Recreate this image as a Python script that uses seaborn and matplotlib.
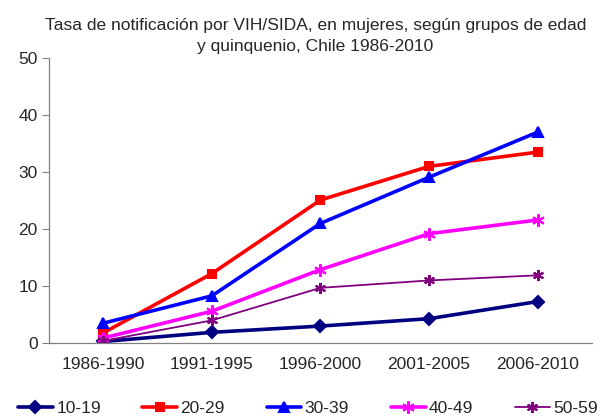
import seaborn as sns
import matplotlib.pyplot as plt
import pandas as pd
from matplotlib.ticker import FixedLocator

periodos = ['1986-1990', '1991-1995', '1996-2000', '2001-2005', '2006-2010']
grupos = ['10-19', '20-29', '30-39', '40-49', '50-59']
tasa_10_19 = [0.3, 1.9, 3.0, 4.3, 7.3]
tasa_20_29 = [1.8, 12.2, 25.1, 31.0, 33.5]
tasa_30_39 = [3.5, 8.3, 21.0, 29.1, 37.0]
tasa_40_49 = [0.9, 5.6, 12.9, 19.2, 21.6]
tasa_50_59 = [0.4, 4.0, 9.7, 11.0, 11.9]

series = [tasa_10_19, tasa_20_29, tasa_30_39, tasa_40_49, tasa_50_59]
colores = ['#000080', '#FF0000', '#0000FF', '#FF00FF', '#800080']
marcas = ['D', 's', '^', (6, 2, 0), (6, 2, 0)]
grosor = [2.6, 2.6, 2.6, 2.6, 1.3]
tam_marca = [6, 6, 7, 9, 8]

sns.set_style('white')
plt.rcParams['font.family'] = ['Liberation Sans', 'DejaVu Sans']
FS = 12.5

fig, ax = plt.subplots(figsize=(6.11, 4.17), dpi=100)
fig.subplots_adjust(left=0.080, right=0.969, top=0.861, bottom=0.177)

for g, vals, c, m, lw, ms in zip(grupos, series, colores, marcas, grosor, tam_marca):
    df = pd.DataFrame({'periodo': periodos, 'tasa': vals})
    sns.lineplot(data=df, x='periodo', y='tasa', ax=ax, color=c, marker=m,
                 linewidth=lw, markersize=ms, markeredgecolor=c,
                 markeredgewidth=1.5, label=g)

ax.set_xlim(-0.5, 4.5)
ax.set_ylim(0, 50)
ax.set_yticks(range(0, 51, 10))
ax.set_xlabel('')
ax.set_ylabel('')
ax.xaxis.set_minor_locator(FixedLocator([-0.5, 0.5, 1.5, 2.5, 3.5, 4.5]))
ax.tick_params(axis='x', which='major', length=0, labelsize=FS, pad=10)
ax.tick_params(axis='x', which='minor', length=5, width=0.8, color='#808080', direction='out')
ax.tick_params(axis='y', length=5, width=0.8, color='#808080', direction='out', labelsize=FS, left=True, pad=3)
for s in ['top', 'right']:
    ax.spines[s].set_visible(False)
for s in ['left', 'bottom']:
    ax.spines[s].set_color('#808080')
    ax.spines[s].set_linewidth(0.9)

fig.text(0.516, 0.958, 'Tasa de notificación por VIH/SIDA, en mujeres, según grupos de edad\ny quinquenio, Chile 1986-2010',
         fontsize=FS, ha='center', va='top', linespacing=1.5)

ax.legend(loc='center', bbox_to_anchor=(0.504, 0.02), bbox_transform=fig.transFigure,
          ncol=5, frameon=False, fontsize=FS, handlelength=2.0, columnspacing=2.4,
          handletextpad=0.2, borderaxespad=0)

fig.savefig('out.png', dpi=100)
